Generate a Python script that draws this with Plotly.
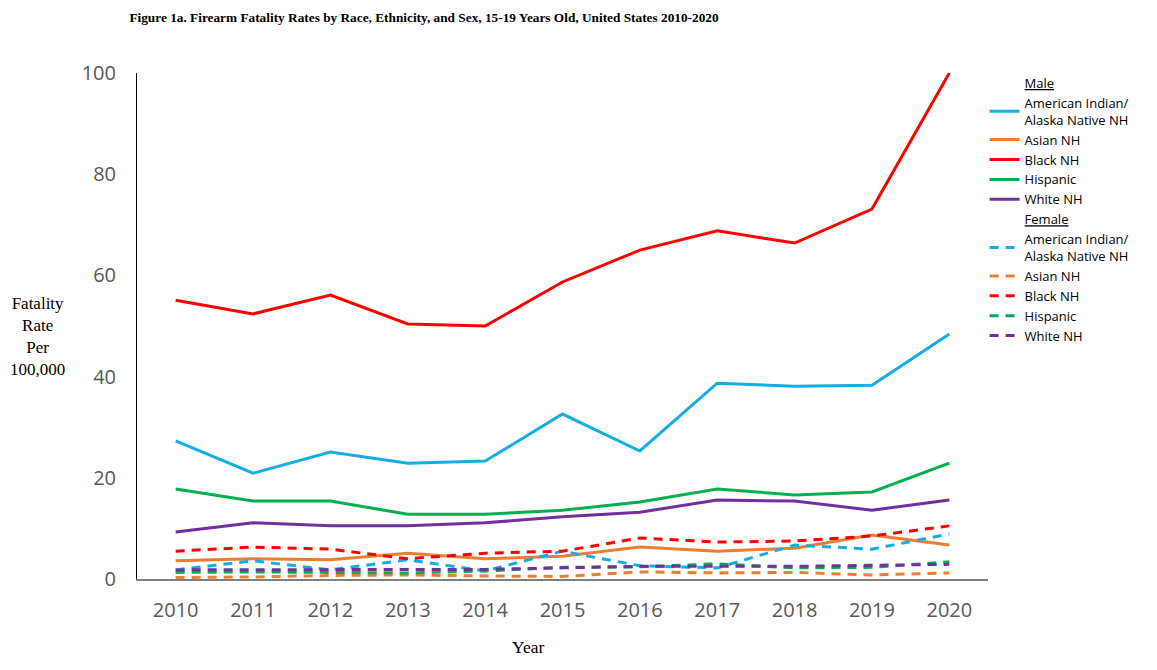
import plotly.graph_objects as go

years = ["2010", "2011", "2012", "2013", "2014", "2015", "2016", "2017", "2018", "2019", "2020"]

male_aian = [27.3, 20.9, 25.1, 22.9, 23.3, 32.6, 25.3, 38.7, 38.1, 38.3, 48.4]
male_asian = [3.6, 4.0, 3.8, 5.1, 4.0, 4.5, 6.3, 5.5, 6.1, 8.7, 6.7]
male_black = [55.1, 52.4, 56.1, 50.4, 50.0, 58.7, 65.0, 68.8, 66.4, 73.1, 100.0]
male_hispanic = [17.8, 15.4, 15.4, 12.8, 12.8, 13.6, 15.2, 17.8, 16.6, 17.2, 22.9]
male_white = [9.3, 11.1, 10.5, 10.5, 11.1, 12.3, 13.2, 15.6, 15.4, 13.6, 15.6]

female_aian = [1.8, 3.6, 1.8, 3.8, 1.6, 5.5, 2.6, 2.2, 6.7, 5.9, 8.9]
female_asian = [0.3, 0.4, 0.7, 0.8, 0.6, 0.5, 1.4, 1.2, 1.3, 0.8, 1.2]
female_black = [5.5, 6.3, 5.9, 4.0, 5.1, 5.5, 8.1, 7.3, 7.5, 8.5, 10.5]
female_hispanic = [1.3, 1.4, 1.3, 1.2, 1.6, 2.3, 2.4, 3.0, 2.2, 2.3, 3.4]
female_white = [1.8, 1.8, 1.9, 1.9, 1.9, 2.2, 2.5, 2.5, 2.5, 2.7, 2.9]

y_ticks = [0, 20, 40, 60, 80, 100]

labels = ["American Indian/<br>Alaska Native NH", "Asian NH", "Black NH", "Hispanic", "White NH"]
colors = ["#14ADE6", "#ED7D31", "#FF0000", "#00B050", "#7030A0"]

fig = go.Figure()

def header(text):
    fig.add_trace(go.Scatter(x=[years[0]], y=[None], mode="lines", name=f"<u>{text}</u>",
                             line=dict(color="rgba(0,0,0,0)", width=0), hoverinfo="skip"))

header("Male")
for lab, col, vals in zip(labels, colors, [male_aian, male_asian, male_black, male_hispanic, male_white]):
    fig.add_trace(go.Scatter(x=years, y=vals, mode="lines", name=lab,
                             line=dict(color=col, width=3)))
header("Female")
for lab, col, vals in zip(labels, colors, [female_aian, female_asian, female_black, female_hispanic, female_white]):
    fig.add_trace(go.Scatter(x=years, y=vals, mode="lines", name=lab,
                             line=dict(color=col, width=3, dash="9px,7px")))

fig.update_layout(
    width=1141, height=654,
    margin=dict(l=129, r=161, t=65, b=83, autoexpand=False),
    paper_bgcolor="white", plot_bgcolor="white",
    title=dict(text="<b>Figure 1a. Firearm Fatality Rates by Race, Ethnicity, and Sex, 15-19 Years Old, United States 2010-2020</b>",
               font=dict(family="Liberation Serif", size=13.3, color="black"),
               x=0.3646, xanchor="center", y=0.985, yanchor="middle"),
    xaxis=dict(type="category", categoryorder="array", categoryarray=years,
               range=[-0.5, 10.5], showgrid=False, showline=True, linecolor="#808080", linewidth=2,
               tickfont=dict(family="Open Sans", size=20, color="#595959"), automargin=False,
               ticks="", ticklabelstandoff=12, zeroline=False),
    yaxis=dict(range=[0, 100], tickvals=y_ticks, showgrid=False, showline=True, linecolor="black", linewidth=1,
               tickfont=dict(family="Open Sans", size=20, color="#595959"), automargin=False,
               ticks="", ticklabelstandoff=16, zeroline=False),
    legend=dict(x=0.996, xanchor="left", y=1.01, yanchor="top", traceorder="normal",
                font=dict(family="Open Sans", size=13, color="black"),
                itemwidth=30, tracegroupgap=0, bgcolor="rgba(0,0,0,0)"),
    showlegend=True,
    annotations=[
        dict(text="Fatality<br>Rate<br>Per<br>100,000", xref="paper", yref="paper", x=-0.117, y=0.479,
             xanchor="center", yanchor="middle", showarrow=False, align="center",
             font=dict(family="Liberation Serif", size=17, color="black")),
        dict(text="Year", xref="paper", yref="paper", x=0.4595, y=-0.134, xanchor="center", yanchor="middle",
             showarrow=False, font=dict(family="Liberation Serif", size=17.5, color="black")),
    ],
)

fig.write_html("out.html")
